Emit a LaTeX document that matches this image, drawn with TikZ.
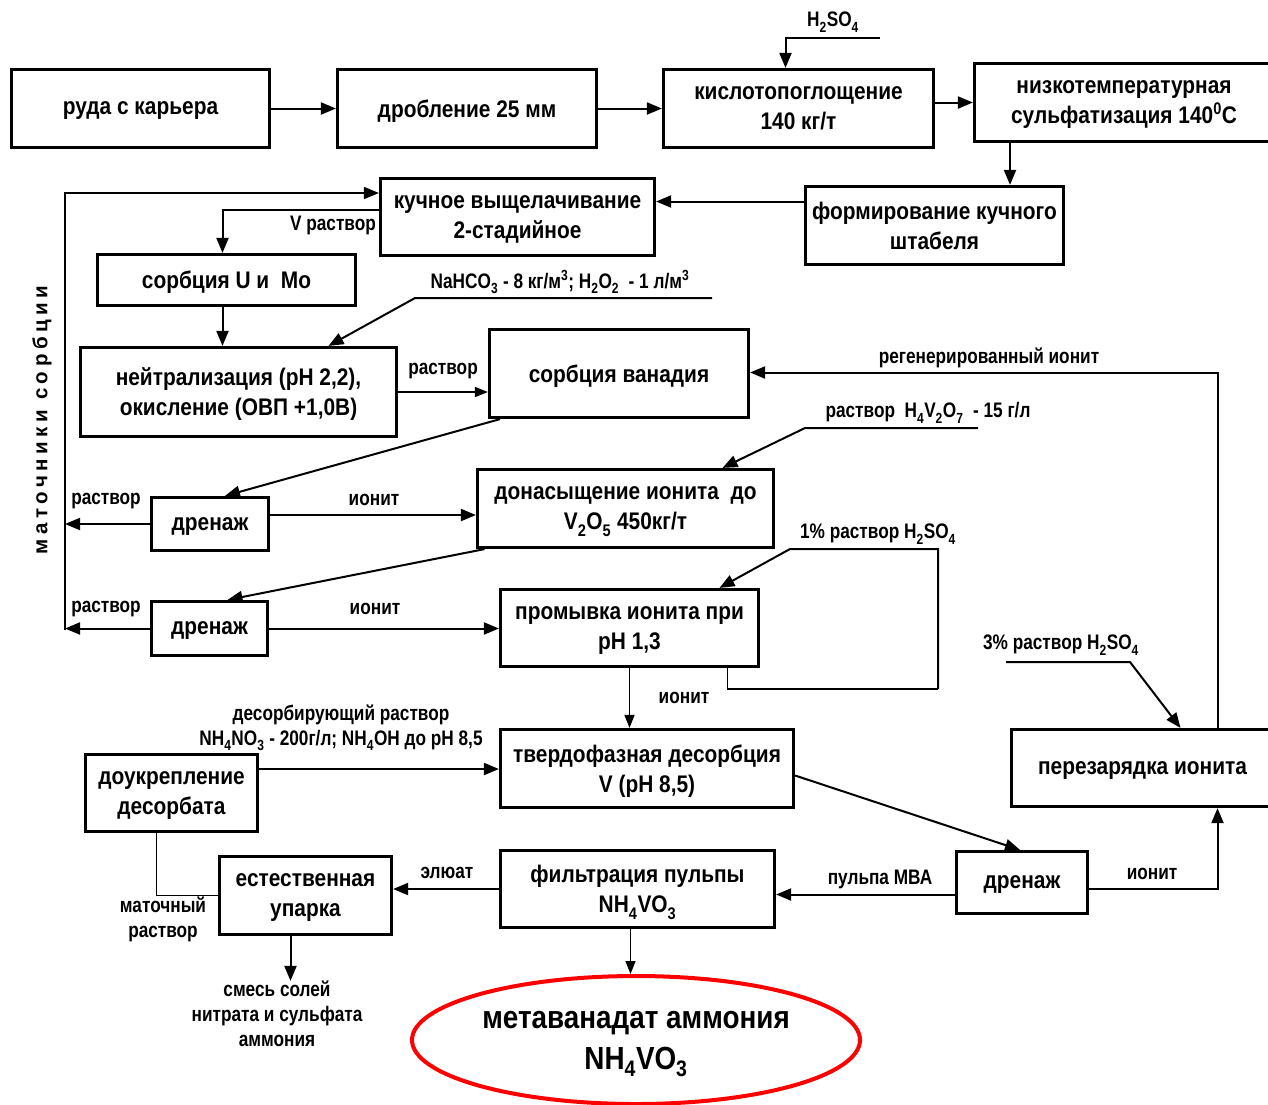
\documentclass[tikz,border=0pt]{standalone}
\usepackage{fontspec}
\setmainfont{Liberation Sans}[FakeStretch=0.87]
\newfontfamily\labelfont{Liberation Sans}[FakeStretch=0.82]
\newfontfamily\spacedfont{Liberation Sans}[LetterSpace=22]
\usetikzlibrary{arrows.meta,shapes.geometric}
\newcommand{\lowsub}[1]{\textsubscript{\raisebox{-0.3ex}{#1}}}
\tikzset{
  flowbox/.style={draw, line width=3.2pt, align=center, inner sep=2pt, text depth=0pt, font=\bfseries\fontsize{24}{30}\selectfont},
  flowarrow/.style={-{Triangle[length=15pt,width=12pt]}, line width=2pt},
  thinarrow/.style={-{Triangle[length=13pt,width=10pt]}, line width=1.5pt},
  flowline/.style={line width=1.6pt},
  flowlabel/.style={align=center, inner sep=0pt, font=\labelfont\bfseries\fontsize{21}{25}\selectfont}
}

\begin{document}
\begin{tikzpicture}[x=1pt, y=-1pt]
  \useasboundingbox (0,0) rectangle (1268,1104);

  % process boxes
  \node[flowbox, minimum width=258pt, minimum height=78pt] (ore) at (140.5,108.5) {руда с карьера};
  \node[flowbox, minimum width=259pt, minimum height=78pt] (crush) at (467,108.5) {дробление 25 мм};
  \node[flowbox, minimum width=270pt, minimum height=78pt] (acid) at (798.5,108.5) {кислотопоглощение\\140 кг/т};
  \node[flowbox, minimum width=299pt, minimum height=78pt] (sulf) at (1124,102.5) {низкотемпературная\\сульфатизация 140\textsuperscript{0}С};
  \node[flowbox, minimum width=258pt, minimum height=78pt] (stack) at (934.5,225.5) {формирование кучного\\штабеля};
  \node[flowbox, minimum width=274pt, minimum height=77pt] (leach) at (517.5,217) {кучное выщелачивание\\2-стадийное};
  \node[flowbox, minimum width=258pt, minimum height=51pt] (sorbU) at (226.5,280) {сорбция U и~ Mo};
  \node[flowbox, minimum width=316pt, minimum height=89pt] (neutr) at (238.5,392) {нейтрализация (pH 2,2),\\окисление (ОВП +1,0В)};
  \node[flowbox, minimum width=259pt, minimum height=88pt] (sorbV) at (619,373.5) {сорбция ванадия};
  \node[flowbox, minimum width=296pt, minimum height=78pt] (satur) at (625.5,508.5) {донасыщение ионита~ до\\V\lowsub{2}O\lowsub{5} 450кг/т};
  \node[flowbox, minimum width=117pt, minimum height=53pt] (drainA) at (210,524) {дренаж};
  \node[flowbox, minimum width=116pt, minimum height=54pt] (drainB) at (209.5,628.5) {дренаж};
  \node[flowbox, minimum width=258pt, minimum height=77pt] (wash) at (629.5,628) {промывка ионита при\\pH 1,3};
  \node[flowbox, minimum width=293pt, minimum height=78pt] (desorb) at (647,768.5) {твердофазная десорбция\\V (pH 8,5)};
  \node[flowbox, minimum width=172pt, minimum height=77pt] (fortify) at (171.5,793) {доукрепление\\десорбата};
  \node[flowbox, minimum width=262pt, minimum height=77pt] (recharge) at (1142.5,768) {перезарядка ионита};
  \node[flowbox, minimum width=131pt, minimum height=62pt] (drainC) at (1022,882.5) {дренаж};
  \node[flowbox, minimum width=274pt, minimum height=77pt] (filter) at (637.5,889) {фильтрация пульпы\\NH\lowsub{4}VO\lowsub{3}};
  \node[flowbox, minimum width=172pt, minimum height=78pt] (evap) at (305.5,895.5) {естественная\\упарка};
  \node[draw=red, line width=4pt, ellipse, minimum width=448pt, minimum height=128pt, inner sep=0pt, align=center, text depth=0pt,
        font=\bfseries\fontsize{32}{41}\selectfont] (product) at (636,1040) {метаванадат аммония\\NH\lowsub{4}VO\lowsub{3}};

  % side text
  \node[rotate=90, inner sep=0pt, font=\spacedfont\bfseries\fontsize{20.5}{24}\selectfont] (mother) at (42,420) {маточники сорбции};

  % labels
  \node[flowlabel] (acidlbl) at (833,22) {H\lowsub{2}SO\lowsub{4}};
  \node[flowlabel] (vsol) at (333,225) {V раствор};
  \node[flowlabel] (oxid) at (560,282) {NaHCO\lowsub{3} - 8 кг/м\textsuperscript{3}; H\lowsub{2}O\lowsub{2}~ - 1 л/м\textsuperscript{3}};
  \node[flowlabel] (solA) at (443,371) {раствор};
  \node[flowlabel] (regen) at (989,358) {регенерированный ионит};
  \node[flowlabel] (pyro) at (928,413) {раствор~ H\lowsub{4}V\lowsub{2}O\lowsub{7}~ - 15 г/л};
  \node[flowlabel] (solB) at (106,501) {раствор};
  \node[flowlabel] (ionA) at (374,500) {ионит};
  \node[flowlabel] (washacid) at (878,534) {1\% раствор H\lowsub{2}SO\lowsub{4}};
  \node[flowlabel] (solC) at (106,609) {раствор};
  \node[flowlabel] (ionB) at (375,609) {ионит};
  \node[flowlabel] (regacid) at (1061,645) {3\% раствор H\lowsub{2}SO\lowsub{4}};
  \node[flowlabel] (ionC) at (684,698) {ионит};
  \node[flowlabel] (desol) at (341,728) {десорбирующий раствор\\NH\lowsub{4}NO\lowsub{3} - 200г/л; NH\lowsub{4}OH до pH 8,5};
  \node[flowlabel] (ionD) at (1152,874) {ионит};
  \node[flowlabel] (pulp) at (880,879) {пульпа МВА};
  \node[flowlabel] (eluate) at (447,873) {элюат};
  \node[flowlabel] (motherlq) at (163,919) {маточный\\раствор};
  \node[flowlabel] (salts) at (277,1014) {смесь солей\\нитрата и сульфата\\аммония};

  % free ends
  \coordinate (acidin) at (880,38);
  \coordinate (oxidin) at (712,298);
  \coordinate (oxidk) at (415,298);
  \coordinate (pyroin) at (978,428);
  \coordinate (pyrok) at (805,428);
  \coordinate (washr) at (938,689);
  \coordinate (washt) at (938,549);
  \coordinate (washk) at (790,549);
  \coordinate (regin) at (1006,662);
  \coordinate (regk) at (1130,662);
  \coordinate (bus) at (65,630);

  % main line
  \draw[flowarrow] (ore) -- (crush);
  \draw[flowarrow] (crush) -- (acid);
  \draw[flowarrow] (acid.east |- sulf.west) -- (sulf.west);
  \draw[flowarrow] (acidin) -| ([xshift=-13pt]acid.north);
  \draw[flowarrow] ([xshift=-114pt]sulf.south) -- ([xshift=-114pt]sulf.south |- stack.north);
  \draw[flowarrow] ([yshift=24pt]stack.west) -- ([yshift=24pt]stack.west -| leach.east);
  \draw[flowarrow] ([yshift=7pt]leach.west) -| ([xshift=-4pt]sorbU.north);
  \draw[flowarrow] ([xshift=-4pt]sorbU.south) -- ([xshift=-4pt]sorbU.south |- neutr.north);
  \draw[flowarrow] (oxidin) -- (oxidk) -- ([xshift=90pt]neutr.north);
  \draw[thinarrow] (neutr.east) -- (neutr.east -| sorbV.west);
  \draw[flowarrow] ([xshift=75pt]recharge.north) |- ([yshift=1pt]sorbV.east);
  \draw[flowarrow] ([xshift=-119pt]sorbV.south) -- ([xshift=15pt]drainA.north);
  \draw[flowarrow] (pyroin) -- (pyrok) -- ([xshift=97pt]satur.north);

  % drainage and mother liquor loop
  \draw[flowarrow] (drainA.west) -- (drainA.west -| bus);
  \draw[flowarrow] ([yshift=9pt]drainA.east) -- ([yshift=9pt]drainA.east -| satur.west);
  \draw[flowarrow] ([xshift=-141pt]satur.south) -- ([xshift=18pt]drainB.north);
  \draw[flowarrow] (drainB.west) -- (drainB.west -| bus);
  \draw[flowarrow] (drainB.east) -- (drainB.east -| wash.west);
  \draw[flowline, -{Triangle[length=15pt,width=12pt]}] (bus) |- ([yshift=24pt]leach.west);
  \draw[flowarrow] (washr) -- (washt) -- (washk) -- ([xshift=90pt]wash.north);
  \draw[flowline] ([xshift=98pt]wash.south) |- (washr);

  % desorption
  \draw[thinarrow] (wash.south) -- (wash.south |- desorb.north);
  \draw[flowarrow] ([yshift=24pt]fortify.east) -- ([yshift=24pt]fortify.east -| desorb.west);
  \draw[flowarrow] ([yshift=-7pt]desorb.east) -- ([xshift=-2pt]drainC.north);
  \draw[flowarrow] (regin) -- (regk) -- ([xshift=38pt]recharge.north);
  \draw[flowarrow] ([yshift=-6pt]drainC.east) -| ([xshift=75pt]recharge.south);
  \draw[flowarrow] ([yshift=-12pt]drainC.west) -- ([yshift=-12pt]drainC.west -| filter.east);
  \draw[flowarrow] (filter.west) -- (filter.west -| evap.east);
  \draw[flowline] ([xshift=-15pt]fortify.south) |- (evap.west);
  \draw[flowarrow] ([xshift=-15pt]evap.south) -- ([xshift=-15pt]evap.south |- salts.north);
  \draw[thinarrow] ([xshift=-7pt]filter.south) -- ([xshift=-7pt]filter.south |- product.north);
\end{tikzpicture}
\end{document}
